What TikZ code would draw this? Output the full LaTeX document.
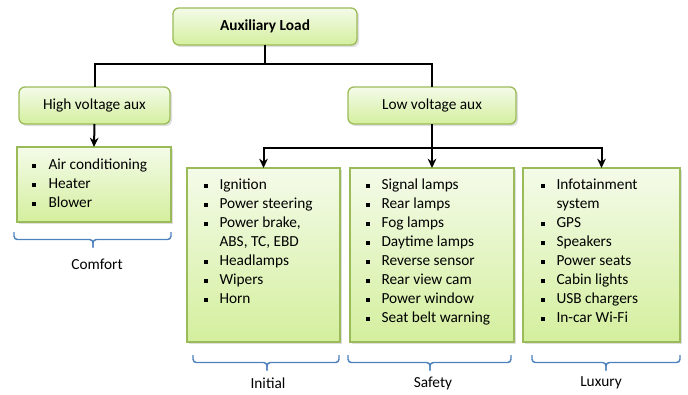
\documentclass[tikz,border=0pt]{standalone}
\usepackage{fontspec}
\setmainfont{Carlito}
\usetikzlibrary{shadows,arrows.meta}

\definecolor{boxtop}{RGB}{244,251,233}
\definecolor{boxbottom}{RGB}{212,239,158}
\definecolor{boxline}{RGB}{155,187,89}
\definecolor{bracecol}{RGB}{79,129,189}

\newcommand{\sqbullet}{\rule[1.4pt]{3pt}{3pt}}
\newcommand{\itm}[1]{\sqbullet & #1\\}
% bracket under a group: left x, right x, tick x, top y
\newcommand{\groupbracket}[4]{%
  \draw[groupbrace] (#1,#4) -- (#1,#4+7.5) -- (#3,#4+7.5) -- (#3,#4+15.5);
  \draw[groupbrace] (#2,#4) -- (#2,#4+7.5) -- (#3,#4+7.5) -- (#3,#4+15.5);}

\tikzset{every picture/.style={line width=0.75pt}}
\tikzset{
  greenbox/.style={draw=boxline, line width=1pt, top color=boxtop, bottom color=boxbottom,
    inner sep=0pt, outer sep=0pt,
    drop shadow={shadow xshift=1.5pt, shadow yshift=-1.5pt, opacity=0.25}},
  headbox/.style={greenbox, rounded corners=4.5pt, font=\fontsize{11.5}{13}\selectfont},
  itemlist/.style={anchor=north west, inner sep=0pt, font=\fontsize{11.5}{14.25}\selectfont},
  groupbrace/.style={draw=bracecol, line width=1.1pt, rounded corners=2.5pt},
  grouplabel/.style={font=\fontsize{11.5}{13}\selectfont},
  link/.style={line width=1.5pt},
  linkarrow/.style={link, -{Stealth[length=7pt,width=6.5pt]}}
}

\begin{document}
\begin{tikzpicture}[x=0.75pt,y=0.75pt,yscale=-1,xscale=1]
\useasboundingbox (0,0) rectangle (688,394);

%Shape: Rounded Rect [top]
\node[headbox, minimum width=138pt, minimum height=27.75pt] (aux) at (265,26.5) {\textbf{Auxiliary Load}};
%Shape: Rounded Rect [high / low voltage]
\node[headbox, minimum width=113.25pt, minimum height=27.75pt] (hv) at (94.5,105.5) {High voltage aux};
\node[headbox, minimum width=126pt, minimum height=27.75pt] (lv) at (432,105.5) {Low voltage aux};

%Shape: Rectangle [groups]
\node[greenbox, minimum width=115.5pt, minimum height=56.25pt] (comfort) at (94,184.5) {};
\node[greenbox, minimum width=114.75pt, minimum height=130.5pt] (initial) at (263.5,255) {};
\node[greenbox, minimum width=123pt, minimum height=130.5pt] (safety) at (432,255) {};
\node[greenbox, minimum width=117.75pt, minimum height=130.5pt] (luxury) at (601.5,255) {};

%Straight Lines
\draw[link] (aux.south) -- ++(0,19) -| (hv.north);
\draw[link] (aux.south) -- ++(0,19) -| (lv.north);
\draw[linkarrow] (hv.south) -- (comfort.north);
\draw[linkarrow] (lv.south) -- ++(0,24) -| (initial.north);
\draw[linkarrow] (lv.south) -- (safety.north);
\draw[linkarrow] (lv.south) -- ++(0,24) -| (luxury.north);

% Text Node
\node[itemlist] (comfortlist) at (32,156) {\begin{tabular}{@{}l@{\hspace{9pt}}l@{}}
  \itm{Air conditioning}
  \itm{Heater}
  \itm{Blower}
\end{tabular}};
% Text Node
\node[itemlist] (initiallist) at (203,176) {\begin{tabular}{@{}l@{\hspace{9pt}}l@{}}
  \itm{Ignition}
  \itm{Power steering}
  \itm{Power brake,}
  & ABS, TC, EBD\\
  \itm{Headlamps}
  \itm{Wipers}
  \itm{Horn}
\end{tabular}};
% Text Node
\node[itemlist] (safetylist) at (365,176) {\begin{tabular}{@{}l@{\hspace{9pt}}l@{}}
  \itm{Signal lamps}
  \itm{Rear lamps}
  \itm{Fog lamps}
  \itm{Daytime lamps}
  \itm{Reverse sensor}
  \itm{Rear view cam}
  \itm{Power window}
  \itm{Seat belt warning}
\end{tabular}};
% Text Node
\node[itemlist] (luxurylist) at (540,176) {\begin{tabular}{@{}l@{\hspace{9pt}}l@{}}
  \itm{Infotainment}
  & system\\
  \itm{GPS}
  \itm{Speakers}
  \itm{Power seats}
  \itm{Cabin lights}
  \itm{USB chargers}
  \itm{In-car Wi-Fi}
\end{tabular}};

%Brackets
\groupbracket{14}{171}{93}{232}
\groupbracket{193}{339}{267}{355}
\groupbracket{348}{511}{430}{355}
\groupbracket{532}{680}{606}{355}

% Text Node
\node[grouplabel] (comfortlabel) at (97,264) {Comfort};
\node[grouplabel] (initiallabel) at (268,383) {Initial};
\node[grouplabel] (safetylabel) at (433,383) {Safety};
\node[grouplabel] (luxurylabel) at (601,383) {Luxury};

\end{tikzpicture}
\end{document}
